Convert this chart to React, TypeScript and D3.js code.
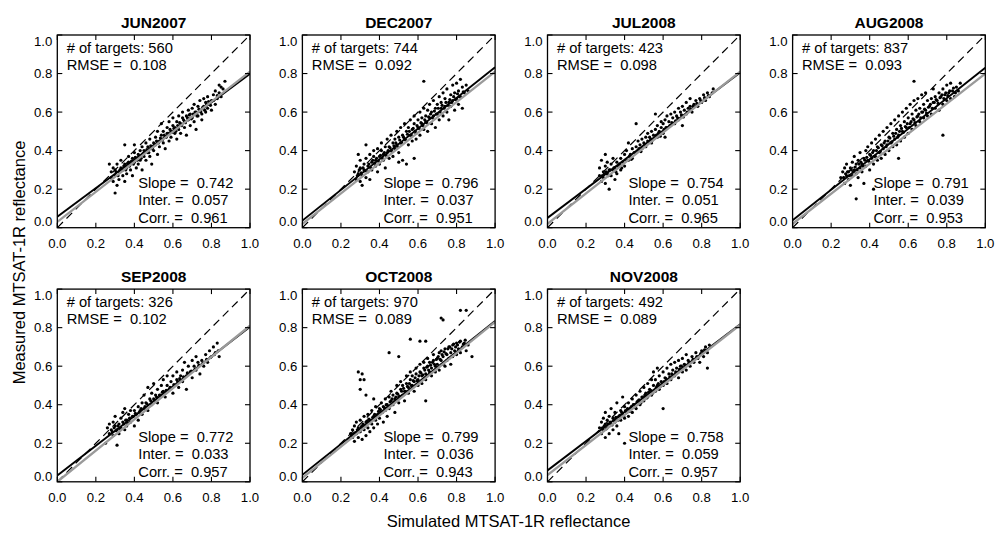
import React from "react";
import * as d3 from "d3";

const titles = ["JUN2007", "DEC2007", "JUL2008", "AUG2008", "SEP2008", "OCT2008", "NOV2008"];
const targets = [560, 744, 423, 837, 326, 970, 492];
const rmse = ["0.108", "0.092", "0.098", "0.093", "0.102", "0.089", "0.089"];
const slopes = ["0.742", "0.796", "0.754", "0.791", "0.772", "0.799", "0.758"];
const inters = ["0.057", "0.037", "0.051", "0.039", "0.033", "0.036", "0.059"];
const corrs = ["0.961", "0.951", "0.965", "0.953", "0.957", "0.943", "0.957"];
// second (gray) fit line: intercept and slope
const grayInter = [0.03, 0.02, 0.02, 0.02, 0.0, 0.02, 0.035];
const graySlope = [0.78, 0.79, 0.79, 0.78, 0.81, 0.81, 0.78];
const tickValues = [0, 0.2, 0.4, 0.6, 0.8, 1.0];

type P = [number, number];

const junPts: P[] = [
  [0.27,0.33],[0.28,0.29],[0.28,0.26],[0.29,0.31],[0.29,0.24],[0.30,0.30],[0.30,0.18],[0.30,0.27],[0.31,0.33],[0.31,0.22],
  [0.32,0.29],[0.32,0.25],[0.33,0.31],[0.33,0.35],[0.34,0.27],[0.34,0.30],[0.35,0.33],[0.35,0.43],[0.35,0.24],[0.36,0.31],
  [0.36,0.28],[0.37,0.34],[0.37,0.37],[0.38,0.30],[0.38,0.33],[0.39,0.36],[0.39,0.27],[0.40,0.34],[0.40,0.39],[0.40,0.43],
  [0.41,0.31],[0.41,0.36],[0.42,0.38],[0.42,0.33],[0.43,0.40],[0.43,0.35],[0.44,0.42],[0.44,0.30],[0.45,0.37],[0.45,0.40],
  [0.46,0.44],[0.46,0.35],[0.47,0.39],[0.47,0.42],[0.48,0.46],[0.48,0.37],[0.49,0.41],[0.49,0.33],[0.50,0.44],[0.50,0.40],
  [0.51,0.47],[0.51,0.43],[0.52,0.38],[0.52,0.50],[0.53,0.45],[0.53,0.42],[0.54,0.48],[0.54,0.54],[0.55,0.44],[0.55,0.50],
  [0.56,0.47],[0.56,0.41],[0.57,0.52],[0.57,0.49],[0.58,0.45],[0.58,0.55],[0.59,0.50],[0.59,0.47],[0.60,0.53],[0.60,0.57],
  [0.61,0.49],[0.61,0.52],[0.62,0.46],[0.62,0.55],[0.63,0.58],[0.63,0.51],[0.64,0.54],[0.64,0.49],[0.65,0.57],[0.65,0.60],
  [0.66,0.52],[0.66,0.55],[0.67,0.58],[0.67,0.48],[0.68,0.61],[0.68,0.56],[0.69,0.53],[0.69,0.59],[0.70,0.62],[0.70,0.57],
  [0.71,0.55],[0.71,0.64],[0.72,0.60],[0.72,0.51],[0.73,0.58],[0.73,0.63],[0.74,0.61],[0.74,0.66],[0.75,0.59],[0.75,0.56],
  [0.76,0.63],[0.76,0.67],[0.77,0.60],[0.77,0.65],[0.78,0.62],[0.78,0.68],[0.79,0.64],[0.80,0.66],[0.80,0.61],[0.81,0.69],
  [0.82,0.64],[0.82,0.71],[0.83,0.67],[0.84,0.70],[0.85,0.68],[0.85,0.73],[0.86,0.72],[0.87,0.76],[0.84,0.74],
  [0.305,0.29],[0.315,0.27],[0.325,0.30],[0.345,0.32],[0.355,0.30],[0.365,0.335],[0.375,0.32],[0.385,0.345],[0.395,0.33],[0.405,0.365],
  [0.415,0.35],[0.425,0.37],[0.435,0.36],[0.445,0.385],[0.455,0.39],[0.465,0.405],[0.475,0.39],[0.485,0.425],[0.495,0.415],[0.505,0.43],
  [0.515,0.45],[0.525,0.44],[0.535,0.465],[0.545,0.455],[0.555,0.48],[0.565,0.47],[0.575,0.49],[0.585,0.51],[0.595,0.495],[0.605,0.515],
  [0.615,0.50],[0.625,0.53],[0.635,0.545],[0.645,0.53],[0.655,0.56],[0.665,0.545],[0.675,0.57],[0.685,0.585],[0.695,0.565],[0.705,0.59],
  [0.715,0.60],[0.725,0.58],[0.735,0.615],[0.745,0.60],[0.755,0.625],[0.765,0.61],[0.775,0.64],[0.785,0.655],[0.795,0.635],[0.81,0.66],
  [0.83,0.685],
];

const decPts: P[] = [
  [0.27,0.29],[0.28,0.32],[0.28,0.25],[0.29,0.38],[0.29,0.28],[0.30,0.24],[0.30,0.31],[0.30,0.35],[0.31,0.27],[0.31,0.22],
  [0.32,0.30],[0.32,0.33],[0.33,0.43],[0.33,0.26],[0.33,0.36],[0.34,0.29],[0.34,0.32],[0.35,0.38],[0.35,0.25],[0.36,0.34],
  [0.36,0.30],[0.37,0.37],[0.37,0.40],[0.38,0.32],[0.38,0.35],[0.39,0.41],[0.39,0.29],[0.40,0.37],[0.40,0.33],[0.41,0.40],
  [0.41,0.44],[0.42,0.35],[0.42,0.38],[0.43,0.42],[0.43,0.31],[0.44,0.39],[0.44,0.46],[0.45,0.36],[0.45,0.42],[0.46,0.48],
  [0.46,0.40],[0.47,0.44],[0.47,0.37],[0.48,0.46],[0.48,0.41],[0.49,0.50],[0.49,0.43],[0.50,0.39],[0.50,0.47],[0.51,0.52],
  [0.51,0.44],[0.52,0.48],[0.52,0.35],[0.53,0.46],[0.53,0.54],[0.54,0.50],[0.54,0.33],[0.55,0.43],[0.55,0.52],[0.56,0.48],
  [0.56,0.56],[0.57,0.45],[0.57,0.51],[0.58,0.54],[0.58,0.58],[0.59,0.49],[0.59,0.46],[0.60,0.56],[0.60,0.52],[0.61,0.60],
  [0.61,0.48],[0.62,0.54],[0.62,0.57],[0.63,0.51],[0.63,0.62],[0.63,0.76],[0.64,0.58],[0.64,0.55],[0.65,0.61],[0.65,0.50],
  [0.66,0.57],[0.66,0.64],[0.67,0.60],[0.67,0.54],[0.68,0.66],[0.68,0.58],[0.69,0.62],[0.69,0.52],[0.70,0.64],[0.70,0.59],
  [0.71,0.68],[0.71,0.56],[0.72,0.62],[0.72,0.65],[0.73,0.70],[0.73,0.58],[0.74,0.63],[0.74,0.67],[0.75,0.60],[0.75,0.72],
  [0.76,0.65],[0.76,0.56],[0.77,0.69],[0.77,0.63],[0.78,0.74],[0.78,0.66],[0.79,0.61],[0.79,0.70],[0.80,0.67],[0.80,0.75],
  [0.81,0.64],[0.81,0.71],[0.82,0.77],[0.82,0.68],[0.83,0.73],[0.83,0.62],[0.84,0.70],[0.85,0.74],[0.86,0.71],[0.58,0.36],
  [0.50,0.34],
  [0.285,0.27],[0.295,0.30],[0.305,0.285],[0.315,0.31],[0.325,0.295],[0.345,0.33],[0.355,0.31],[0.365,0.35],[0.375,0.335],[0.385,0.36],
  [0.395,0.345],[0.405,0.375],[0.415,0.36],[0.425,0.39],[0.435,0.375],[0.445,0.40],[0.455,0.415],[0.465,0.395],[0.475,0.425],[0.485,0.44],
  [0.495,0.42],[0.505,0.455],[0.515,0.44],[0.525,0.47],[0.535,0.455],[0.545,0.485],[0.555,0.50],[0.565,0.48],[0.575,0.515],[0.585,0.50],
  [0.595,0.53],[0.605,0.515],[0.615,0.545],[0.625,0.53],[0.635,0.56],[0.645,0.545],[0.655,0.575],[0.665,0.59],[0.675,0.57],[0.685,0.605],
  [0.695,0.59],[0.705,0.62],[0.715,0.60],[0.725,0.635],[0.735,0.62],[0.745,0.65],[0.755,0.635],[0.765,0.665],[0.775,0.65],[0.785,0.68],
  [0.795,0.665],[0.805,0.695],[0.815,0.68],[0.835,0.705],
];

const julPts: P[] = [
  [0.27,0.27],[0.27,0.31],[0.28,0.24],[0.28,0.35],[0.29,0.29],[0.29,0.26],[0.30,0.32],[0.30,0.38],[0.30,0.23],[0.31,0.28],
  [0.31,0.34],[0.32,0.30],[0.32,0.20],[0.33,0.27],[0.33,0.33],[0.34,0.30],[0.34,0.36],[0.35,0.25],[0.35,0.31],[0.36,0.34],
  [0.36,0.28],[0.37,0.32],[0.38,0.36],[0.38,0.30],[0.39,0.34],[0.40,0.38],[0.40,0.32],[0.41,0.40],[0.42,0.35],[0.42,0.44],
  [0.43,0.38],[0.44,0.41],[0.44,0.36],[0.45,0.39],[0.46,0.54],[0.46,0.42],[0.47,0.40],[0.47,0.45],[0.48,0.43],[0.49,0.41],
  [0.49,0.46],[0.50,0.44],[0.51,0.47],[0.51,0.42],[0.52,0.49],[0.52,0.45],[0.53,0.47],[0.54,0.50],[0.54,0.44],[0.55,0.48],
  [0.56,0.51],[0.56,0.59],[0.57,0.47],[0.57,0.53],[0.58,0.50],[0.59,0.52],[0.59,0.55],[0.60,0.49],[0.60,0.54],[0.61,0.56],
  [0.62,0.52],[0.62,0.58],[0.63,0.55],[0.64,0.53],[0.64,0.59],[0.65,0.57],[0.66,0.54],[0.66,0.60],[0.67,0.58],[0.68,0.62],
  [0.68,0.56],[0.69,0.60],[0.70,0.63],[0.70,0.58],[0.71,0.61],[0.72,0.65],[0.72,0.59],[0.73,0.62],[0.74,0.67],[0.74,0.63],
  [0.75,0.60],[0.76,0.64],[0.77,0.66],[0.78,0.63],[0.79,0.67],[0.80,0.65],[0.81,0.69],[0.82,0.66],[0.83,0.70],[0.84,0.68],
  [0.86,0.72],[0.61,0.47],[0.70,0.53],
  [0.285,0.27],[0.295,0.28],[0.305,0.29],[0.315,0.27],[0.325,0.30],[0.345,0.31],[0.355,0.29],[0.365,0.32],[0.375,0.33],[0.385,0.31],
  [0.405,0.35],[0.425,0.37],[0.435,0.355],[0.455,0.39],[0.475,0.41],[0.485,0.395],[0.505,0.43],[0.525,0.445],[0.535,0.46],[0.545,0.455],
  [0.565,0.48],[0.575,0.49],[0.585,0.475],[0.605,0.51],[0.615,0.52],[0.635,0.53],[0.645,0.545],[0.665,0.555],[0.675,0.57],[0.695,0.585],
  [0.705,0.575],[0.725,0.60],[0.745,0.615],[0.755,0.63],[0.775,0.645],[0.795,0.66],[0.815,0.675],[0.835,0.685],[0.855,0.70],
];

const augPts: P[] = [
  [0.25,0.26],[0.26,0.29],[0.27,0.23],[0.27,0.31],[0.28,0.27],[0.28,0.33],[0.29,0.25],[0.29,0.29],[0.30,0.31],[0.30,0.22],
  [0.31,0.34],[0.31,0.27],[0.32,0.30],[0.32,0.37],[0.33,0.15],[0.33,0.28],[0.33,0.33],[0.34,0.35],[0.34,0.26],[0.35,0.31],
  [0.35,0.39],[0.36,0.33],[0.36,0.29],[0.37,0.23],[0.37,0.36],[0.38,0.40],[0.38,0.32],[0.39,0.35],[0.39,0.42],[0.40,0.30],
  [0.40,0.38],[0.41,0.36],[0.41,0.44],[0.42,0.20],[0.42,0.33],[0.42,0.40],[0.43,0.37],[0.43,0.46],[0.44,0.35],[0.44,0.42],
  [0.45,0.39],[0.45,0.48],[0.46,0.36],[0.46,0.43],[0.47,0.41],[0.47,0.50],[0.48,0.38],[0.48,0.45],[0.49,0.43],[0.49,0.52],
  [0.50,0.40],[0.50,0.47],[0.51,0.44],[0.51,0.54],[0.52,0.42],[0.52,0.49],[0.53,0.46],[0.53,0.56],[0.54,0.43],[0.54,0.51],
  [0.55,0.48],[0.55,0.58],[0.56,0.45],[0.56,0.53],[0.57,0.50],[0.57,0.60],[0.58,0.47],[0.58,0.55],[0.59,0.52],[0.59,0.62],
  [0.60,0.49],[0.60,0.57],[0.61,0.54],[0.61,0.64],[0.62,0.51],[0.62,0.59],[0.63,0.56],[0.63,0.66],[0.64,0.53],[0.64,0.61],
  [0.65,0.58],[0.65,0.67],[0.66,0.55],[0.66,0.62],[0.67,0.60],[0.67,0.69],[0.68,0.57],[0.68,0.64],[0.69,0.61],[0.69,0.70],
  [0.70,0.58],[0.70,0.66],[0.71,0.63],[0.72,0.67],[0.72,0.59],[0.73,0.65],[0.73,0.72],[0.74,0.62],[0.74,0.68],[0.75,0.66],
  [0.76,0.70],[0.76,0.61],[0.77,0.68],[0.78,0.48],[0.78,0.72],[0.78,0.64],[0.79,0.69],[0.80,0.66],[0.80,0.74],[0.81,0.70],
  [0.82,0.67],[0.82,0.75],[0.83,0.71],[0.84,0.68],[0.85,0.73],[0.86,0.71],[0.87,0.75],[0.63,0.76],[0.55,0.36],
  [0.265,0.26],[0.275,0.28],[0.285,0.29],[0.295,0.27],[0.305,0.30],[0.315,0.29],[0.325,0.315],[0.335,0.30],[0.345,0.33],[0.355,0.34],
  [0.365,0.32],[0.375,0.35],[0.385,0.365],[0.395,0.345],[0.405,0.375],[0.415,0.39],[0.425,0.37],[0.435,0.40],[0.445,0.415],[0.455,0.395],
  [0.465,0.425],[0.475,0.44],[0.485,0.42],[0.495,0.45],[0.505,0.465],[0.515,0.445],[0.525,0.475],[0.535,0.49],[0.545,0.47],[0.555,0.50],
  [0.565,0.515],[0.575,0.495],[0.585,0.525],[0.595,0.54],[0.605,0.52],[0.615,0.55],[0.625,0.565],[0.635,0.545],[0.645,0.575],[0.655,0.59],
  [0.665,0.57],[0.675,0.60],[0.685,0.615],[0.695,0.595],[0.705,0.625],[0.715,0.64],[0.725,0.62],[0.735,0.65],[0.745,0.665],[0.755,0.645],
  [0.765,0.675],[0.775,0.69],[0.785,0.67],[0.795,0.70],[0.805,0.685],[0.815,0.71],[0.835,0.725],[0.845,0.70],
];

const sepPts: P[] = [
  [0.25,0.20],[0.26,0.28],[0.27,0.25],[0.27,0.30],[0.28,0.27],[0.29,0.31],[0.29,0.24],[0.30,0.29],[0.30,0.34],[0.31,0.19],
  [0.31,0.27],[0.32,0.30],[0.32,0.25],[0.33,0.33],[0.33,0.28],[0.34,0.31],[0.34,0.36],[0.35,0.27],[0.35,0.38],[0.36,0.32],
  [0.36,0.29],[0.37,0.35],[0.38,0.31],[0.38,0.37],[0.39,0.34],[0.40,0.29],[0.40,0.37],[0.41,0.35],[0.42,0.39],[0.42,0.32],
  [0.43,0.37],[0.44,0.41],[0.44,0.35],[0.45,0.45],[0.45,0.38],[0.46,0.41],[0.47,0.37],[0.47,0.49],[0.48,0.43],[0.49,0.40],
  [0.49,0.46],[0.50,0.51],[0.50,0.43],[0.51,0.45],[0.52,0.41],[0.52,0.48],[0.53,0.45],[0.54,0.50],[0.55,0.47],[0.55,0.53],
  [0.56,0.44],[0.57,0.50],[0.57,0.55],[0.58,0.48],[0.59,0.52],[0.60,0.55],[0.60,0.46],[0.61,0.50],[0.62,0.57],[0.62,0.53],
  [0.63,0.49],[0.64,0.55],[0.65,0.58],[0.65,0.52],[0.66,0.62],[0.67,0.55],[0.67,0.48],[0.68,0.60],[0.69,0.57],[0.70,0.63],
  [0.70,0.54],[0.71,0.60],[0.72,0.58],[0.72,0.65],[0.73,0.62],[0.74,0.56],[0.75,0.63],[0.76,0.60],[0.77,0.66],[0.78,0.62],
  [0.79,0.68],[0.80,0.65],[0.81,0.70],[0.82,0.67],[0.83,0.72],[0.84,0.65],
  [0.285,0.26],[0.295,0.28],[0.305,0.265],[0.315,0.29],[0.325,0.275],[0.345,0.30],[0.355,0.32],[0.365,0.305],[0.375,0.33],[0.395,0.34],
  [0.405,0.355],[0.425,0.36],[0.435,0.38],[0.455,0.39],[0.465,0.405],[0.485,0.42],[0.505,0.42],[0.515,0.44],[0.535,0.45],[0.545,0.465],
  [0.565,0.475],[0.585,0.49],[0.605,0.505],[0.625,0.52],[0.635,0.535],[0.655,0.545],[0.675,0.565],[0.695,0.575],[0.715,0.585],[0.735,0.605],
  [0.755,0.615],[0.775,0.635],[0.795,0.645],[0.815,0.66],[0.835,0.68],
];

const octPts: P[] = [
  [0.29,0.57],[0.31,0.56],[0.30,0.53],[0.32,0.53],[0.30,0.48],[0.33,0.45],[0.37,0.43],[0.45,0.67],[0.50,0.65],[0.56,0.74],
  [0.61,0.73],[0.64,0.73],[0.72,0.85],[0.73,0.84],[0.82,0.89],[0.85,0.89],[0.64,0.42],[0.88,0.65],
  [0.24,0.22],[0.25,0.25],[0.26,0.23],[0.26,0.27],[0.27,0.21],[0.27,0.29],[0.28,0.25],[0.28,0.31],[0.29,0.23],[0.29,0.28],
  [0.30,0.26],[0.30,0.32],[0.31,0.22],[0.31,0.29],[0.32,0.34],[0.32,0.27],[0.33,0.31],[0.33,0.24],[0.34,0.28],[0.34,0.35],
  [0.35,0.32],[0.35,0.26],[0.36,0.30],[0.36,0.37],[0.37,0.34],[0.37,0.28],[0.38,0.32],[0.38,0.39],[0.39,0.35],[0.39,0.30],
  [0.40,0.38],[0.40,0.33],[0.41,0.41],[0.41,0.36],[0.42,0.39],[0.42,0.31],[0.43,0.43],[0.43,0.37],[0.44,0.40],[0.44,0.34],
  [0.45,0.44],[0.45,0.38],[0.46,0.42],[0.46,0.47],[0.47,0.40],[0.47,0.45],[0.48,0.43],[0.48,0.36],[0.49,0.46],[0.49,0.50],
  [0.50,0.44],[0.50,0.41],[0.51,0.48],[0.51,0.52],[0.52,0.45],[0.52,0.50],[0.53,0.47],[0.53,0.42],[0.54,0.51],[0.54,0.55],
  [0.55,0.49],[0.55,0.46],[0.56,0.53],[0.56,0.57],[0.57,0.50],[0.57,0.55],[0.58,0.52],[0.58,0.47],[0.59,0.56],[0.59,0.59],
  [0.60,0.53],[0.60,0.50],[0.61,0.57],[0.61,0.61],[0.62,0.55],[0.62,0.51],[0.63,0.59],[0.63,0.62],[0.64,0.56],[0.64,0.53],
  [0.65,0.60],[0.65,0.64],[0.66,0.57],[0.66,0.62],[0.67,0.59],[0.67,0.55],[0.68,0.63],[0.68,0.66],[0.69,0.60],[0.69,0.57],
  [0.70,0.64],[0.70,0.61],[0.71,0.67],[0.71,0.58],[0.72,0.63],[0.72,0.68],[0.73,0.61],[0.73,0.65],[0.74,0.69],[0.74,0.60],
  [0.75,0.66],[0.75,0.63],[0.76,0.70],[0.76,0.64],[0.77,0.67],[0.77,0.61],[0.78,0.71],[0.78,0.65],[0.79,0.68],[0.80,0.72],
  [0.80,0.66],[0.81,0.69],[0.82,0.73],[0.82,0.67],[0.83,0.70],[0.84,0.72],[0.85,0.68],[0.86,0.71],
  [0.255,0.24],[0.265,0.25],[0.275,0.255],[0.285,0.27],[0.295,0.26],[0.305,0.285],[0.315,0.30],[0.325,0.29],[0.335,0.315],[0.345,0.325],
  [0.355,0.31],[0.365,0.335],[0.375,0.35],[0.385,0.34],[0.395,0.365],[0.405,0.375],[0.415,0.36],[0.425,0.385],[0.435,0.40],[0.445,0.39],
  [0.455,0.415],[0.465,0.43],[0.475,0.415],[0.485,0.44],[0.495,0.455],[0.505,0.445],[0.515,0.47],[0.525,0.485],[0.535,0.47],[0.545,0.495],
  [0.555,0.51],[0.565,0.50],[0.575,0.525],[0.585,0.54],[0.595,0.525],[0.605,0.55],[0.615,0.565],[0.625,0.555],[0.635,0.58],[0.645,0.595],
  [0.655,0.58],[0.665,0.605],[0.675,0.62],[0.685,0.61],[0.695,0.635],[0.705,0.65],[0.715,0.635],[0.725,0.66],[0.735,0.675],[0.745,0.665],
  [0.755,0.69],[0.765,0.70],[0.775,0.69],[0.785,0.715],[0.795,0.70],[0.805,0.71],[0.815,0.725],[0.835,0.715],[0.845,0.735],
];

const novPts: P[] = [
  [0.27,0.28],[0.28,0.31],[0.28,0.25],[0.29,0.33],[0.29,0.27],[0.30,0.30],[0.30,0.23],[0.30,0.36],[0.31,0.28],[0.31,0.32],
  [0.32,0.25],[0.32,0.34],[0.33,0.30],[0.33,0.38],[0.34,0.27],[0.34,0.33],[0.35,0.31],[0.35,0.36],[0.36,0.29],[0.36,0.41],
  [0.37,0.34],[0.37,0.25],[0.38,0.37],[0.38,0.32],[0.39,0.44],[0.39,0.35],[0.40,0.20],[0.40,0.39],[0.40,0.33],[0.41,0.36],
  [0.42,0.41],[0.42,0.34],[0.43,0.38],[0.44,0.43],[0.44,0.36],[0.45,0.40],[0.46,0.45],[0.46,0.38],[0.47,0.42],[0.48,0.47],
  [0.48,0.40],[0.49,0.44],[0.50,0.49],[0.50,0.42],[0.51,0.46],[0.52,0.51],[0.52,0.44],[0.53,0.48],[0.54,0.53],[0.54,0.45],
  [0.55,0.50],[0.55,0.57],[0.56,0.47],[0.56,0.53],[0.57,0.59],[0.57,0.50],[0.58,0.55],[0.58,0.48],[0.59,0.52],[0.60,0.57],
  [0.60,0.38],[0.60,0.50],[0.61,0.54],[0.62,0.59],[0.62,0.51],[0.63,0.56],[0.64,0.61],[0.64,0.53],[0.65,0.58],[0.66,0.55],
  [0.66,0.62],[0.67,0.59],[0.68,0.54],[0.68,0.63],[0.69,0.60],[0.70,0.57],[0.70,0.64],[0.71,0.61],[0.72,0.58],[0.72,0.66],
  [0.73,0.63],[0.74,0.60],[0.75,0.65],[0.76,0.62],[0.77,0.67],[0.78,0.64],[0.79,0.62],[0.80,0.68],[0.81,0.65],[0.82,0.70],
  [0.83,0.59],[0.83,0.67],[0.84,0.71],
  [0.285,0.28],[0.295,0.29],[0.305,0.275],[0.315,0.30],[0.325,0.31],[0.335,0.295],[0.345,0.32],[0.355,0.335],[0.365,0.32],[0.375,0.345],
  [0.385,0.36],[0.395,0.34],[0.405,0.37],[0.415,0.38],[0.425,0.365],[0.435,0.39],[0.445,0.40],[0.455,0.385],[0.465,0.415],[0.475,0.425],
  [0.485,0.41],[0.495,0.44],[0.505,0.45],[0.515,0.435],[0.525,0.465],[0.535,0.475],[0.545,0.46],[0.565,0.49],[0.575,0.51],[0.585,0.495],
  [0.605,0.52],[0.615,0.535],[0.635,0.545],[0.645,0.56],[0.665,0.57],[0.685,0.585],[0.695,0.60],[0.715,0.605],[0.735,0.62],[0.755,0.635],
  [0.775,0.65],[0.795,0.665],[0.815,0.685],
];

const pointSets = [junPts, decPts, julPts, augPts, sepPts, octPts, novPts];

const FONT = "'Liberation Sans', Arial, Helvetica, sans-serif";
const W = 996;
const H = 535;
const LEFT0 = 57.3;
const COL_STEP = 245.1;
const PW = 192.7;
const PH = 192.7;
const ROW_TOP = [35, 289.1];

function Label({ x, y, text, fs }: { x: number; y: number; text: string; fs: number }) {
  return (
    <text x={x} y={y} fontSize={fs} fontFamily={FONT} fill="#000" xmlSpace="preserve" style={{ whiteSpace: "pre" }}>
      {text}
    </text>
  );
}

function Panel({ i }: { i: number }) {
  const col = i % 4;
  const row = Math.floor(i / 4);
  const left = LEFT0 + col * COL_STEP;
  const top = ROW_TOP[row];
  const bottom = top + PH;
  const right = left + PW;
  const x = d3.scaleLinear().domain([0, 1]).range([left, right]);
  const y = d3.scaleLinear().domain([0, 1]).range([bottom, top]);
  const line = d3.line<P>().x((d) => x(d[0])).y((d) => y(d[1]));
  const s = parseFloat(slopes[i]);
  const b = parseFloat(inters[i]);
  const blackPts: P[] = [[0, b], [1, b + s]];
  const grayPts: P[] = [[0, grayInter[i]], [1, grayInter[i] + graySlope[i]]];
  const clipId = `clip${i}`;
  const tl = 5;
  const fs = 14.7;
  return (
    <g>
      <defs>
        <clipPath id={clipId}>
          <rect x={left} y={top} width={PW} height={PH} />
        </clipPath>
      </defs>
      <g clipPath={`url(#${clipId})`}>
        {pointSets[i].map((d, k) => (
          <circle key={k} cx={x(d[0])} cy={y(d[1])} r={1.6} fill="#000" />
        ))}
        <path d={line([[0, 0], [1, 1]]) || ""} stroke="#000" strokeWidth={1.2} strokeDasharray="8,5" fill="none" />
        <path d={line(blackPts) || ""} stroke="#000" strokeWidth={1.9} fill="none" />
        <path d={line(grayPts) || ""} stroke="#9a9a9a" strokeWidth={2.3} fill="none" />
      </g>
      <rect x={left} y={top} width={PW} height={PH} fill="none" stroke="#000" strokeWidth={1.3} />
      {tickValues.map((t) => (
        <g key={t} stroke="#000" strokeWidth={1.1}>
          <line x1={x(t)} x2={x(t)} y1={bottom} y2={bottom - tl} />
          <line x1={x(t)} x2={x(t)} y1={top} y2={top + tl} />
          <line x1={left} x2={left + tl} y1={y(t)} y2={y(t)} />
          <line x1={right} x2={right - tl} y1={y(t)} y2={y(t)} />
        </g>
      ))}
      {tickValues.map((t) => (
        <text key={"xl" + t} x={x(t)} y={bottom + 20.5} textAnchor="middle" fontSize={13.2} fontFamily={FONT} fill="#000">
          {t.toFixed(1)}
        </text>
      ))}
      {tickValues.map((t, k) => {
        const shift = k === 0 ? -6 : k === tickValues.length - 1 ? 6 : 0;
        return (
          <text key={"yl" + t} x={left - 5} y={y(t) + shift + 4.7} textAnchor="end" fontSize={13.2} fontFamily={FONT} fill="#000">
            {t.toFixed(1)}
          </text>
        );
      })}
      <text x={(left + right) / 2} y={top - 7.5} textAnchor="middle" fontSize={15.5} fontWeight="bold" fontFamily={FONT} fill="#000">
        {titles[i]}
      </text>
      <Label x={left + 9.4} y={top + 18.3} fs={fs} text={`# of targets: ${targets[i]}`} />
      <Label x={left + 9.4} y={top + 35.2} fs={fs} text={`RMSE =  ${rmse[i]}`} />
      <Label x={left + 81} y={bottom - 40} fs={fs} text={`Slope =  ${slopes[i]}`} />
      <Label x={left + 81} y={bottom - 22.5} fs={fs} text={`Inter. =  ${inters[i]}`} />
      <Label x={left + 81} y={bottom - 5} fs={fs} text={`Corr. =  ${corrs[i]}`} />
    </g>
  );
}

export default function App() {
  return (
    <svg width={W} height={H} style={{ position: "absolute", left: 0, top: 0, background: "#fff" }}>
      <rect x={0} y={0} width={W} height={H} fill="#fff" />
      {titles.map((_, i) => (
        <Panel key={i} i={i} />
      ))}
      <text x={508.5} y={526.7} textAnchor="middle" fontSize={16.5} fontFamily={FONT} fill="#000">
        Simulated MTSAT-1R reflectance
      </text>
      <text
        transform={`translate(24.5,262.5) rotate(-90)`}
        textAnchor="middle"
        fontSize={16.5}
        fontFamily={FONT}
        fill="#000"
      >
        Measured MTSAT-1R reflectance
      </text>
    </svg>
  );
}
